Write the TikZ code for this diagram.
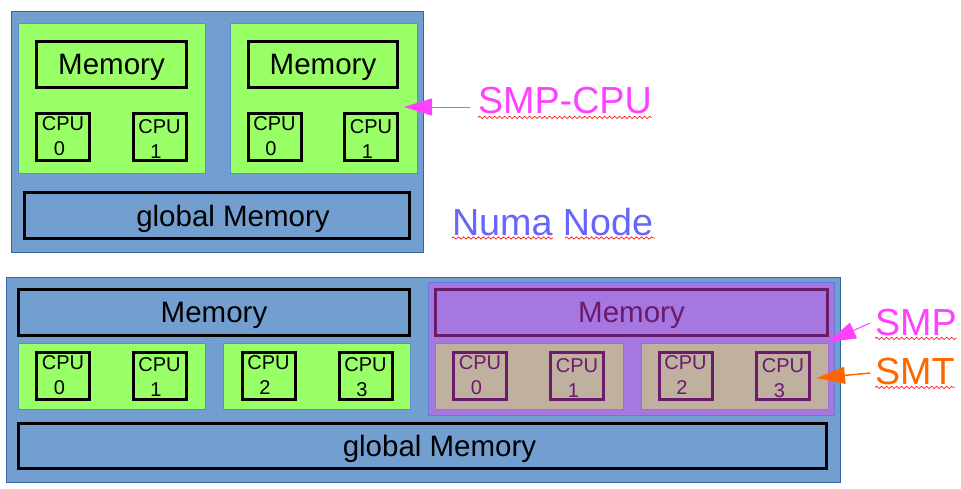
\documentclass[tikz,border=0pt]{standalone}
\usepackage{fontspec}
\setmainfont{Liberation Sans}
\usetikzlibrary{arrows.meta,decorations.pathmorphing}
\definecolor{nblue}{HTML}{729FCF}
\definecolor{nblueline}{HTML}{3465A4}
\definecolor{gline}{HTML}{5B8FC7}
\definecolor{ngreen}{HTML}{99FF66}
\definecolor{npurple}{HTML}{A677E0}
\definecolor{pline}{HTML}{5F7FD6}
\definecolor{dpurple}{HTML}{6A1B6A}
\definecolor{ntan}{HTML}{BFB0A0}
\definecolor{tline}{HTML}{9A70D8}
\definecolor{nmagenta}{HTML}{FF40FF}
\definecolor{nviolet}{HTML}{6666FF}
\definecolor{norange}{HTML}{FF6600}
\begin{document}
\begin{tikzpicture}[x=1pt,y=-1pt,
  every node/.style={inner sep=0pt, outer sep=0pt},
  region/.style={draw=nblueline, line width=0.8pt, fill=nblue},
  greenbox/.style={draw=gline, line width=0.6pt, fill=ngreen},
  purplebox/.style={draw=pline, line width=0.8pt, fill=npurple},
  tanbox/.style={draw=tline, line width=0.6pt, fill=ntan},
  membox/.style={draw=black, line width=3pt, font=\fontsize{29.5}{35}\selectfont, text depth=0pt},
  cputext/.style={font=\fontsize{20}{25}\selectfont, align=center},
  cpu/.style n args={3}{draw=#3, line width=3pt, minimum width=53pt, minimum height=47pt,
    label={[cputext, text=#3, yshift=#2]center:{CPU\\#1\hspace*{7pt}}}},
  bigtext/.style={font=\fontsize{37.7}{45}\selectfont, anchor=base west},
  wavy/.style={draw=red, line width=0.6pt, decorate, decoration={snake, amplitude=1.2pt, segment length=5pt}},
  pointer/.style={line width=1pt, -{Triangle[length=28pt,width=17pt]}}
]
\useasboundingbox (0,0) rectangle (961,488);

% ---------- top: SMP-CPU / Numa Node ----------
\node[region, minimum width=412pt, minimum height=241pt] (outer1) at (217,131.5) {};
\node[greenbox, minimum width=187pt, minimum height=150pt] (g1) at (111.5,98) {};
\node[greenbox, minimum width=187pt, minimum height=150pt] (g2) at (323.5,98) {};
\node[membox, minimum width=150pt, minimum height=46pt] (m1) at (111.5,64.5) {Memory};
\node[membox, minimum width=149pt, minimum height=46pt] (m2) at (323,64.5) {Memory};
\node[cpu={0}{0.5pt}{black}] (t1c0) at (63,137) {};
\node[cpu={1}{-2pt}{black}] (t1c1) at (159.5,137) {};
\node[cpu={0}{0.5pt}{black}] (t2c0) at (274.5,137) {};
\node[cpu={1}{-2pt}{black}] (t2c1) at (371,137) {};
\node[membox, fill=nblue, minimum width=385pt, minimum height=46pt] (gm1) at (217,215.5) {\hspace*{32pt}global Memory};

% ---------- bottom ----------
\node[region, minimum width=834pt, minimum height=205pt] (outer2) at (423,379.5) {};
\node[membox, fill=nblue, minimum width=391pt, minimum height=46pt] (ml) at (214,312.5) {Memory};
\node[greenbox, minimum width=187pt, minimum height=66pt] (ga) at (111.5,376) {};
\node[greenbox, minimum width=187pt, minimum height=66pt] (gb) at (316.5,376) {};
\node[cpu={0}{0.5pt}{black}] (b0) at (63,375.5) {};
\node[cpu={1}{-2pt}{black}] (b1) at (159.5,375.5) {};
\node[cpu={2}{0.5pt}{black}] (b2) at (268.5,375.5) {};
\node[cpu={3}{-2pt}{black}] (b3) at (365.5,375.5) {};

\node[purplebox, minimum width=406pt, minimum height=133pt] (pr) at (631,348.5) {};
\node[membox, draw=dpurple, fill=npurple, text=dpurple, minimum width=392pt, minimum height=46pt] (pm) at (631.5,312.5) {Memory};
\node[tanbox, minimum width=188pt, minimum height=66pt] (ta) at (529,376) {};
\node[tanbox, minimum width=187pt, minimum height=66pt] (tb) at (734.5,376) {};
\node[cpu={0}{0.5pt}{dpurple}] (p0) at (480,376) {};
\node[cpu={1}{-2pt}{dpurple}] (p1) at (577,376) {};
\node[cpu={2}{0.5pt}{dpurple}] (p2) at (685.5,376) {};
\node[cpu={3}{-2pt}{dpurple}] (p3) at (783,376) {};

\node[membox, fill=nblue, minimum width=808pt, minimum height=45pt] (gm2) at (422.5,446) {\hspace*{34pt}global Memory};

% ---------- labels ----------
\node[bigtext, text=nmagenta] (lsmpcpu) at (478,113) {SMP-CPU};
\node[bigtext, text=nviolet] (lnuma) at (452,235) {Numa Node};
\node[bigtext, text=nmagenta] (lsmp) at (875,335) {SMP};
\node[bigtext, text=norange] (lsmt) at (875,384) {SMT};

\draw[wavy] ([yshift=-4pt]lsmpcpu.south west) -- ([yshift=-4pt]lsmpcpu.south east);
\draw[wavy] (452,238) -- (553,238);
\draw[wavy] (565,238) -- (655,238);
\draw[wavy] ([yshift=-3pt]lsmp.south west) -- ([yshift=-3pt]lsmp.south east);
\draw[wavy] ([yshift=-3pt]lsmt.south west) -- ([yshift=-3pt]lsmt.south east);

% ---------- arrows ----------
\coordinate (a1s) at (470,107);
\coordinate (a1e) at (404,107);
\coordinate (a2s) at (870,323);
\coordinate (a2e) at (828,342);
\coordinate (a3s) at (870,373);
\coordinate (a3e) at (817,378);
\draw[pointer, draw=nmagenta, fill=nmagenta] (a1s) -- (a1e);
\draw[pointer, draw=nmagenta, fill=nmagenta] (a2s) -- (a2e);
\draw[pointer, line width=1.5pt, draw=norange, fill=norange] (a3s) -- (a3e);
\end{tikzpicture}
\end{document}
